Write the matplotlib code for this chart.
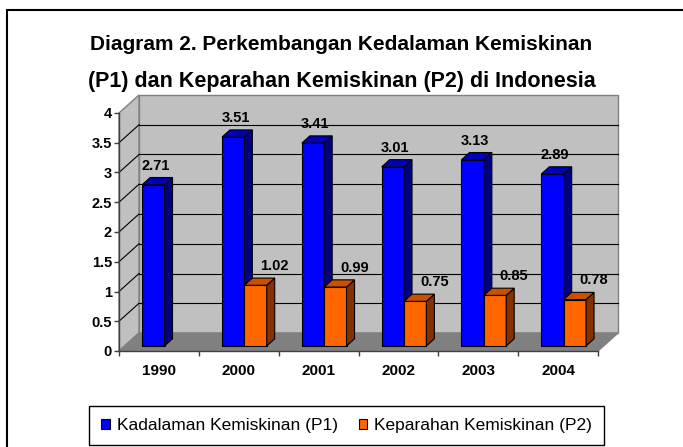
import matplotlib
matplotlib.use('Agg')
import matplotlib.pyplot as plt
from matplotlib.patches import Polygon, Rectangle, Patch

# data
years = ['1990', '2000', '2001', '2002', '2003', '2004']
p1 = [2.71, 3.51, 3.41, 3.01, 3.13, 2.89]
p2 = [None, 1.02, 0.99, 0.75, 0.85, 0.78]
p1_name = 'Kadalaman Kemiskinan (P1)'
p2_name = 'Keparahan Kemiskinan (P2)'
title_lines = ['Diagram 2. Perkembangan Kedalaman Kemiskinan',
               '(P1) dan Keparahan Kemiskinan (P2) di Indonesia']
yticks = [0, 0.5, 1, 1.5, 2, 2.5, 3, 3.5, 4]
ytick_labels = ['0', '0.5', '1', '1.5', '2', '2.5', '3', '3.5', '4']

plt.rcParams['font.family'] = ['Liberation Sans', 'DejaVu Sans']

W, H = 683, 447
fig = plt.figure(figsize=(W / 100, H / 100), dpi=100)

# front plane of the 3d box, in pixels
x0, x1, ybot, ytop = 119, 598, 351, 113
ax = fig.add_axes([x0 / W, 1 - ybot / H, (x1 - x0) / W, (ybot - ytop) / H])
n = len(years)
ymax = yticks[-1]
ax.set_xlim(0, n)
ax.set_ylim(0, ymax)

# depth of the box, in data units
DX = 20 / ((x1 - x0) / n)
DY = 18 / ((ybot - ytop) / ymax)

# walls and floor
ax.add_patch(Polygon([(DX, DY), (n + DX, DY), (n + DX, ymax + DY), (DX, ymax + DY)],
                     fc='#C0C0C0', ec='#808080', lw=1, clip_on=False, zorder=0))
ax.add_patch(Polygon([(0, 0), (DX, DY), (DX, ymax + DY), (0, ymax)],
                     fc='#C0C0C0', ec='#808080', lw=1, clip_on=False, zorder=0))
ax.add_patch(Polygon([(0, 0), (n, 0), (n + DX, DY), (DX, DY)],
                     fc='#808080', ec='#808080', lw=1, clip_on=False, zorder=0.5))
for v in yticks[1:-1]:
    ax.plot([DX, n + DX], [v + DY, v + DY], color='black', lw=0.8, clip_on=False, zorder=1)
    ax.plot([0, DX], [v, v + DY], color='black', lw=0.8, clip_on=False, zorder=1)

# 3d bars
bw = 0.28
d0, d1 = 0.28, 0.68
dd = d1 - d0
series = [
    (p1, -bw, '#0000FF', '#0000B8', '#000080', 0.03, 3),
    (p2, 0.0, '#FF6600', '#C85000', '#853200', 0.24, 4),
]
for vals, off, c_front, c_top, c_side, lab_dx, z in series:
    idx = [i for i in range(n) if vals[i] is not None]
    xs = [i + 0.5 + off + d0 * DX for i in idx]
    hs = [vals[i] for i in idx]
    base = d0 * DY
    ax.bar(xs, hs, width=bw, bottom=base, align='edge', color=c_front,
           edgecolor='black', lw=0.8, zorder=z, clip_on=False)
    for xl, h in zip(xs, hs):
        xr = xl + bw
        top = base + h
        ax.add_patch(Polygon([(xr, base), (xr + dd * DX, base + dd * DY),
                              (xr + dd * DX, top + dd * DY), (xr, top)],
                             fc=c_side, ec='black', lw=0.8, zorder=z, clip_on=False))
        ax.add_patch(Polygon([(xl, top), (xr, top), (xr + dd * DX, top + dd * DY),
                              (xl + dd * DX, top + dd * DY)],
                             fc=c_top, ec='black', lw=0.8, zorder=z, clip_on=False))
        ax.text(xl + bw / 2 + lab_dx, h + 0.34, f'{h:.2f}', ha='center', va='baseline',
                fontsize=10.5, fontweight='bold', zorder=6, clip_on=False)

# axes
for s in ['top', 'right']:
    ax.spines[s].set_visible(False)
for s in ['left', 'bottom']:
    ax.spines[s].set_color('#404040')
    ax.spines[s].set_linewidth(1)
    ax.spines[s].set_zorder(2)
ax.set_facecolor('none')
ax.set_yticks(yticks)
ax.set_yticklabels(ytick_labels, fontsize=10.5, fontweight='bold')
ax.tick_params(axis='y', length=3.6, width=1, color='#404040', pad=1.5)
ax.set_xticks(range(n + 1))
ax.set_xticklabels([])
ax.set_xticks([i + 0.5 for i in range(n)], minor=True)
ax.set_xticklabels(years, minor=True, fontsize=11, fontweight='bold')
ax.tick_params(axis='x', which='major', length=3.6, width=1, color='#404040')
ax.tick_params(axis='x', which='minor', length=0, pad=9.5)

# title
fig.text(0.5, 1 - 50.5 / H, title_lines[0], ha='center', va='baseline',
         fontsize=15, fontweight='bold')
fig.text(0.5, 1 - 87 / H, title_lines[1], ha='center', va='baseline',
         fontsize=15.5, fontweight='bold')

# legend
handles = [Patch(fc='#0000FF', ec='black', lw=0.8, label=p1_name),
           Patch(fc='#FF6600', ec='black', lw=0.8, label=p2_name)]
leg = fig.legend(handles=handles, ncol=2, loc='upper left',
                 bbox_to_anchor=(89 / W, 1 - 406 / H), borderaxespad=0,
                 fontsize=12.5, handlelength=0.5, handleheight=0.5,
                 handletextpad=0.4, columnspacing=1.2, borderpad=0.7,
                 fancybox=False, framealpha=1, edgecolor='black')
leg.get_frame().set_linewidth(1.0)

# outer chart border (runs off the right and bottom of the picture)
fig.add_artist(Rectangle((7 / W, -0.05), 1.1, 1 - 10 / H + 0.05, transform=fig.transFigure,
                         fill=False, ec='black', lw=1.5, clip_on=False))

fig.savefig('out.png', dpi=100)
